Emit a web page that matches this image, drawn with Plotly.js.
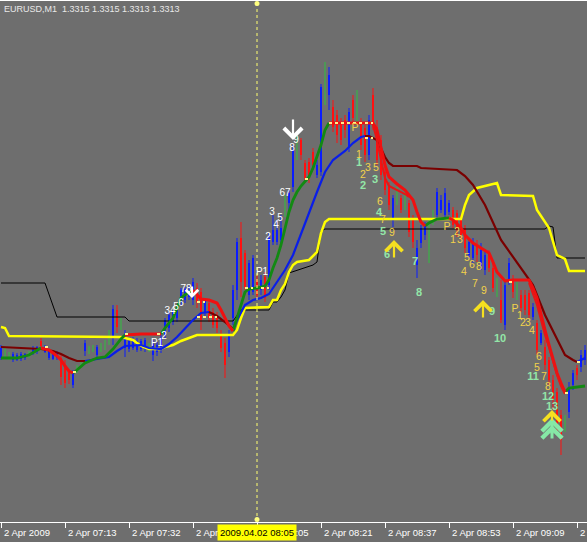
<!DOCTYPE html>
<html><head><meta charset="utf-8">
<script src="https://cdn.plot.ly/plotly-3.0.1.min.js"></script>
<style>html,body{margin:0;padding:0;background:#6e6e6e;}#chart{width:587px;height:542px;}</style>
</head><body><div id="chart"></div>
<script>
// ---------- DATA ----------
const symbol = "EURUSD,M1";
const lastOHLC = [1.3315, 1.3315, 1.3313, 1.3313];
const tickBars = [0, 16, 32, 48, 64, 80, 96, 112, 128, 144];
const tickLabels = ["2 Apr 2009", "2 Apr 07:13", "2 Apr 07:32", "2 Apr 07:49", "2 Apr 08:05",
  "2 Apr 08:21", "2 Apr 08:37", "2 Apr 08:53", "2 Apr 09:09", "2 Apr 09:25"];
const crosshairBar = 64;
const crosshairLabel = "2009.04.02 08:05";

const open = [1.3333,1.3339,1.3335,1.3331,1.3331,1.3332,1.3333,1.3336,1.3338,1.3339,
1.3350,1.3339,1.3333,1.3332,1.3333,1.3333,1.3326,1.3319,1.3306,1.3321,
1.3327,1.3340,1.3341,1.3343,1.3336,1.3343,1.3346,1.3353,1.3354,1.3381,
1.3367,1.3343,1.3342,1.3343,1.3341,1.3342,1.3343,1.3344,1.3336,1.3339,
1.3341,1.3356,1.3363,1.3369,1.3373,1.3388,1.3391,1.3394,1.3391,1.3403,
1.3399,1.3378,1.3388,1.3379,1.3373,1.3356,1.3348,1.3339,1.3373,1.3401,
1.3453,1.3438,1.3396,1.3399,1.3411,1.3401,1.3414,1.3406,1.3449,1.3449,
1.3451,1.3486,1.3488,1.3504,1.3543,1.3551,1.3528,1.3529,1.3539,1.3516,
1.3519,1.3606,1.3596,1.3584,1.3576,1.3568,1.3571,1.3543,1.3591,1.3585,
1.3568,1.3563,1.3536,1.3596,1.3564,1.3551,1.3519,1.3504,1.3473,1.3495,
1.3493,1.3491,1.3488,1.3471,1.3426,1.3448,1.3456,1.3451,1.3473,1.3476,
1.3481,1.3476,1.3479,1.3481,1.3478,1.3473,1.3463,1.3436,1.3433,1.3446,
1.3426,1.3421,1.3438,1.3423,1.3403,1.3391,1.3366,1.3411,1.3411,1.3401,
1.3396,1.3396,1.3398,1.3374,1.3368,1.3348,1.3344,1.3331,1.3311,1.3299,
1.3276,1.3268,1.3279,1.3306,1.3323,1.3324,1.3331];
const high = [1.3346,1.3343,1.3339,1.3339,1.3338,1.3339,1.3338,1.3340,1.3345,1.3345,
1.3353,1.3346,1.3342,1.3341,1.3340,1.3336,1.3331,1.3321,1.3321,1.3326,
1.3331,1.3351,1.3345,1.3346,1.3346,1.3348,1.3351,1.3361,1.3386,1.3386,
1.3373,1.3361,1.3353,1.3354,1.3353,1.3352,1.3353,1.3348,1.3351,1.3349,
1.3356,1.3373,1.3379,1.3381,1.3386,1.3403,1.3404,1.3405,1.3413,1.3408,
1.3403,1.3393,1.3391,1.3383,1.3379,1.3361,1.3353,1.3361,1.3406,1.3453,
1.3469,1.3441,1.3431,1.3436,1.3416,1.3416,1.3419,1.3458,1.3476,1.3471,
1.3476,1.3496,1.3501,1.3546,1.3556,1.3553,1.3531,1.3533,1.3543,1.3531,
1.3607,1.3629,1.3624,1.3591,1.3581,1.3573,1.3576,1.3583,1.3596,1.3601,
1.3573,1.3566,1.3576,1.3603,1.3571,1.3556,1.3526,1.3509,1.3496,1.3504,
1.3496,1.3501,1.3491,1.3476,1.3451,1.3466,1.3469,1.3473,1.3481,1.3503,
1.3496,1.3503,1.3491,1.3484,1.3481,1.3476,1.3466,1.3453,1.3453,1.3451,
1.3448,1.3441,1.3441,1.3429,1.3413,1.3411,1.3411,1.3433,1.3416,1.3409,
1.3401,1.3401,1.3401,1.3388,1.3371,1.3361,1.3351,1.3334,1.3316,1.3303,
1.3281,1.3276,1.3309,1.3321,1.3326,1.3341,1.3346];
const low = [1.3331,1.3333,1.3331,1.3329,1.3330,1.3330,1.3331,1.3333,1.3336,1.3337,
1.3343,1.3338,1.3331,1.3331,1.3331,1.3306,1.3303,1.3307,1.3303,1.3318,
1.3323,1.3335,1.3337,1.3339,1.3333,1.3339,1.3341,1.3346,1.3346,1.3358,
1.3361,1.3334,1.3339,1.3341,1.3339,1.3340,1.3339,1.3339,1.3330,1.3335,
1.3338,1.3353,1.3359,1.3366,1.3369,1.3385,1.3388,1.3391,1.3386,1.3383,
1.3361,1.3373,1.3369,1.3363,1.3358,1.3339,1.3313,1.3334,1.3366,1.3391,
1.3394,1.3401,1.3391,1.3396,1.3391,1.3396,1.3389,1.3401,1.3446,1.3446,
1.3448,1.3474,1.3481,1.3499,1.3531,1.3531,1.3508,1.3508,1.3521,1.3513,
1.3515,1.3586,1.3581,1.3559,1.3548,1.3546,1.3553,1.3539,1.3568,1.3569,
1.3541,1.3529,1.3531,1.3561,1.3526,1.3511,1.3496,1.3481,1.3464,1.3486,
1.3478,1.3481,1.3454,1.3443,1.3413,1.3443,1.3451,1.3428,1.3466,1.3471,
1.3478,1.3473,1.3476,1.3463,1.3454,1.3451,1.3438,1.3433,1.3428,1.3429,
1.3421,1.3416,1.3419,1.3399,1.3394,1.3368,1.3361,1.3406,1.3393,1.3391,
1.3379,1.3376,1.3373,1.3371,1.3336,1.3346,1.3321,1.3306,1.3281,1.3259,
1.3236,1.3259,1.3273,1.3301,1.3311,1.3319,1.3326];
const close = [1.3343,1.3339,1.3335,1.3337,1.3336,1.3337,1.3337,1.3336,1.3343,1.3344,
1.3345,1.3344,1.3340,1.3339,1.3338,1.3314,1.3308,1.3311,1.3318,1.3321,
1.3327,1.3348,1.3341,1.3343,1.3344,1.3343,1.3346,1.3353,1.3382,1.3364,
1.3367,1.3357,1.3350,1.3351,1.3350,1.3350,1.3351,1.3344,1.3347,1.3346,
1.3353,1.3371,1.3376,1.3379,1.3384,1.3401,1.3402,1.3401,1.3409,1.3389,
1.3371,1.3390,1.3373,1.3366,1.3363,1.3343,1.3326,1.3356,1.3401,1.3449,
1.3409,1.3404,1.3428,1.3433,1.3396,1.3411,1.3393,1.3453,1.3461,1.3461,
1.3463,1.3486,1.3498,1.3541,1.3543,1.3536,1.3513,1.3513,1.3526,1.3526,
1.3604,1.3606,1.3616,1.3564,1.3556,1.3551,1.3561,1.3579,1.3573,1.3585,
1.3546,1.3536,1.3571,1.3566,1.3531,1.3516,1.3501,1.3486,1.3493,1.3495,
1.3481,1.3491,1.3459,1.3449,1.3443,1.3463,1.3466,1.3451,1.3473,1.3499,
1.3491,1.3498,1.3488,1.3466,1.3461,1.3456,1.3443,1.3449,1.3449,1.3436,
1.3441,1.3436,1.3423,1.3403,1.3403,1.3371,1.3406,1.3428,1.3399,1.3401,
1.3383,1.3381,1.3376,1.3384,1.3341,1.3358,1.3326,1.3311,1.3291,1.3266,
1.3251,1.3268,1.3304,1.3318,1.3316,1.3336,1.3341];

// fast trend MA: rising buffer / falling buffer (null = empty value)
const fastUpBars = [0,4,7,10,null,18,19,21,24,26,28,30,31,null,40,41,43,45,47,48,null,
  58,59,60,61,62,64,66,67,68,69,70,71,72,73,74,75,76,77,78,79,80,81,82,null,106,107,109,112,null,141,142,146];
const fastUp = [1.3333,1.3333,1.3336,1.3343,null,1.3318,1.3321,1.3328,1.3333,1.3334,1.3342,1.3352,1.3356,null,
  1.3357,1.3363,1.3373,1.3393,1.3399,1.3401,null,
  1.3360,1.3373,1.3388,1.3399,1.3402,1.3403,1.3405,1.3411,1.3423,1.3433,1.3446,1.3463,1.3479,1.3491,1.3499,
  1.3505,1.3510,1.3514,1.3523,1.3534,1.3546,1.3561,1.3568,null,1.3465,1.3468,1.3472,1.3473,null,1.3299,1.3303,1.3305];
const fastDnBars = [10,12,14,15,16,17,18,null,31,35,40,null,48,50,52,54,55,56,57,58,null,
  82,88,93,94,95,96,97,99,101,103,104,105,106,null,
  112,113,115,116,118,120,122,123,124,126,128,132,133,134,135,136,137,138,139,140,141];
const fastDn = [1.3343,1.3341,1.3335,1.3331,1.3325,1.3320,1.3318,null,1.3356,1.3357,1.3357,null,
  1.3401,1.3392,1.3391,1.3388,1.3381,1.3373,1.3365,1.3360,null,
  1.3568,1.3568,1.3568,1.3561,1.3543,1.3526,1.3514,1.3507,1.3501,1.3491,1.3479,1.3469,1.3465,null,
  1.3473,1.3471,1.3463,1.3456,1.3448,1.3443,1.3438,1.3429,1.3419,1.3410,1.3411,1.3411,1.3403,1.3393,
  1.3376,1.3361,1.3346,1.3331,1.3318,1.3308,1.3299];
// slow trend MA
const slowUpBars = [21,24,27,29,31,35,37,40,42,44,46,48,50,52,null,
  58,59,61,63,65,67,69,71,73,75,77,79,81,83,86,88,90,91,null,144,146];
const slowUp = [1.3330,1.3332,1.3334,1.3340,1.3345,1.3346,1.3343,1.3342,1.3347,1.3354,1.3363,1.3371,1.3378,1.3379,null,
  1.3362,1.3371,1.3386,1.3391,1.3393,1.3397,1.3409,1.3421,1.3436,1.3456,1.3478,1.3499,1.3519,1.3531,1.3540,1.3548,1.3554,1.3555,null,
  1.3329,1.3333];
const slowDnBars = [0,5,10,13,15,17,19,21,null,52,54,56,58,null,
  91,92,94,95,96,97,98,104,105,114,116,118,121,125,129,133,136,139,141,143,144];
const slowDn = [1.3344,1.3343,1.3342,1.3340,1.3337,1.3333,1.3330,1.3330,null,1.3379,1.3375,1.3369,1.3362,null,
  1.3555,1.3555,1.3551,1.3543,1.3534,1.3528,1.3525,1.3525,1.3523,1.3521,1.3515,1.3506,1.3486,1.3451,1.3428,
  1.3406,1.3376,1.3351,1.3336,1.3331,1.3329];
// second falling line
const red2Bars = [93,94,95,96,97,99,101,102,null,132,134,136,137,139,140,141];
const red2 = [1.3566,1.3551,1.3531,1.3513,1.3505,1.3501,1.3497,1.3494,null,1.3408,1.3386,1.3356,1.3344,1.3316,1.3305,1.3297];
// yellow trailing stop
const yellowBars = [0,1,2,30,33,35,37,40,41,43,45,47,49,58,59,60,61,67,68,69,70,71,72,73,74,77,79,80,81,82,
  115,116,117,119,122,124,125,133,134,136,137,139,141,142,146];
const yellowLine = [1.3364,1.3363,1.3355,1.3354,1.3351,1.3345,1.3342,1.3342,1.3344,1.3346,1.3350,1.3353,1.3356,1.3356,
  1.3361,1.3373,1.3383,1.3384,1.3391,1.3391,1.3401,1.3407,1.3419,1.3426,1.3429,1.3431,1.3439,1.3458,1.3469,1.3472,
  1.3472,1.3486,1.3496,1.3503,1.3506,1.3508,1.3496,1.3495,1.3481,1.3469,1.3463,1.3436,1.3432,1.3420,1.3420];
// black level line
const blackBars = [0,11,14,31,32,58,60,67,68,69,70,71,72,78,79,80,81,136,137,138,139,146];
const blackLine = [1.3408,1.3408,1.3374,1.3374,1.3370,1.3370,1.3381,1.3381,1.3389,1.3389,1.3394,1.3401,1.3418,
  1.3426,1.3429,1.3460,1.3462,1.3462,1.3465,1.3464,1.3433,1.3433];
// short signal levels
const markStart = [11,18,31,39,49,49,61,65,76,82,91,127,141,144];
const markEnd   = [12,19,32,40,51,54,63,67,77,93,93,128,142,145];
const markLevel = [1.3344,1.3319,1.3357,1.3357,1.3389,1.3374,1.3403,1.3403,1.3512,1.3568,1.3553,1.3409,1.3298,1.3329];
// count labels
const whiteLabelBars = [46.25,42.25,43.75,45,39,40.75,65.25,66.75,67.75,68.75,69.75,71,72.75,73.75];
const whiteLabelPrices = [1.3402,1.3380,1.3384,1.3388,1.3348,1.3355,1.3419,1.3454,1.3479,1.3466,1.3473,1.3498,1.3543,1.3551];
const whiteLabelTexts = ["78","34","5","6","P1","2","P1","2","3","4","5","67","8","9"];
const yellowLabelBars = [88.5,89.5,90.5,91.75,93.75,94.75,95.5,97.75,111.5,113,114,114.75,115.75,116.5,117.75,118.5,
  119.5,120.75,128.5,129.75,130.5,131.75,132.75,134.5,134,135.75,136.75];
const yellowLabelPrices = [1.3563,1.3536,1.3516,1.3523,1.3523,1.3489,1.3471,1.3458,1.3464,1.3451,1.3459,1.3451,1.3419,
  1.3433,1.3426,1.3407,1.3424,1.3400,1.3382,1.3375,1.3368,1.3368,1.3360,1.3334,1.3323,1.3314,1.3304];
const yellowLabelTexts = ["P","1","2","3","5","6","7","9","P","1","2","3","4","5","6","7","8","9","P","1","2","3","4","6","5","7","8"];
const greenLabelBars = [89.5,90.5,93.5,94.5,95.5,96.5,103.5,104.5,122.75,124.75,133,136.75,137.75];
const greenLabelPrices = [1.3528,1.3505,1.3511,1.3478,1.3459,1.3436,1.3429,1.3398,1.3379,1.3352,1.3314,1.3294,1.3284];
const greenLabelTexts = ["1","2","3","4","5","6","7","8","9","10","11","12","13"];
// signal arrows
const sellBars = [47.75, 73];
const sellPrices = [1.3393, 1.3551];
const buyBars = [98.25, 120.5, 137.75];
const buyPrices = [1.3451, 1.3391, 1.3281];
const strongBuyBars = [137.75];
const strongBuyPrices = [1.3273];

// ---------- STYLE ----------
const BG = '#6e6e6e';
const BLUE = '#0a1cff', RED = '#ff1010', THIN_GREEN = '#2fc03f';
const FONT = 'Liberation Sans, Arial, sans-serif';

// ---------- BUILD ----------
const bars = open.map((_, i) => i);
const traces = [];
traces.push({
  type: 'bar', x: bars,
  base: open.map((o, i) => Math.min(o, close[i])),
  y: open.map((o, i) => Math.abs(close[i] - o)),
  width: 0.74,
  marker: { color: open.map((o, i) => close[i] > o ? BLUE : (close[i] < o ? RED : THIN_GREEN)), line: { width: 0 } },
  hoverinfo: 'skip'
});
[[BLUE, (o, c) => c > o], [RED, (o, c) => c < o], [THIN_GREEN, (o, c) => c === o]].forEach(([col, test]) => {
  const wx = [], wy = [];
  bars.forEach(i => { if (test(open[i], close[i])) { wx.push(i, i, null); wy.push(low[i], high[i], null); } });
  traces.push({ type: 'scatter', mode: 'lines', x: wx, y: wy, line: { color: col, width: 1 }, hoverinfo: 'skip' });
});
function line(x, y, color, width, extra) {
  return Object.assign({ type: 'scatter', mode: 'lines', x: x, y: y, connectgaps: false,
    line: Object.assign({ color: color, width: width }, extra || {}), hoverinfo: 'skip' });
}
traces.push(line(blackBars, blackLine, '#000000', 1));
traces.push(line(yellowBars, yellowLine, '#ffff00', 2.5));
traces.push(line(slowUpBars, slowUp, '#0a1ee8', 2.2));
traces.push(line(slowDnBars, slowDn, '#7a0000', 2.2));
traces.push(line(fastUpBars, fastUp, '#128a12', 2.8));
traces.push(line(fastDnBars, fastDn, '#f01010', 3));
traces.push(line(red2Bars, red2, '#e81515', 2));
const mx = [], my = [];
markStart.forEach((s, k) => { mx.push(s, markEnd[k], null); my.push(markLevel[k], markLevel[k], null); });
traces.push(line(mx, my, '#fff08a', 2, { dash: '3px,3px' }));

function labels(x, y, t, color, size, weight) {
  return { type: 'scatter', mode: 'text', x: x, y: y, text: t, textposition: 'middle center',
    textfont: { family: FONT, size: size, color: color, weight: weight }, hoverinfo: 'skip' };
}
traces.push(labels(whiteLabelBars, whiteLabelPrices, whiteLabelTexts, '#ffffff', 10, 'normal'));
traces.push(labels(yellowLabelBars, yellowLabelPrices, yellowLabelTexts, '#f2d24b', 10.5, 'normal'));
traces.push(labels(greenLabelBars, greenLabelPrices, greenLabelTexts, '#93e6a8', 11, 'bold'));

const annotations = [];
// title
annotations.push({ xref: 'paper', yref: 'paper', x: 0, y: 1, xanchor: 'left', yanchor: 'top', xshift: 2, yshift: -1,
  showarrow: false, text: symbol + '\u00a0\u00a0' + lastOHLC.map(v => v.toFixed(4)).join(' '),
  font: { family: FONT, size: 9, color: '#e8e8e8' } });
// time labels
tickBars.forEach((b, k) => annotations.push({ xref: 'x', yref: 'paper', x: b, y: -0.0195, xanchor: 'left', yanchor: 'middle',
  xshift: 1, showarrow: false, text: tickLabels[k], font: { family: FONT, size: 9.5, color: '#ffffff' } }));
// crosshair time box
annotations.push({ xref: 'x', yref: 'paper', x: crosshairBar, y: -0.0195, xanchor: 'center', yanchor: 'middle',
  showarrow: false, text: crosshairLabel, bgcolor: '#ffff00', borderpad: 2,
  font: { family: FONT, size: 9.5, color: '#000000' } });
// arrows
sellBars.forEach((b, k) => annotations.push({ xref: 'x', yref: 'y', x: b, y: sellPrices[k], ax: 0, ay: k === 0 ? -13 : -22,
  showarrow: true, arrowhead: 4, arrowsize: k === 0 ? 1.1 : 1.6, arrowwidth: 2.2, arrowcolor: '#ffffff', text: '' }));
strongBuyBars.forEach((b, k) => {
  annotations.push({ xref: 'x', yref: 'y', x: b, y: strongBuyPrices[k], ax: 0, ay: 22,
    showarrow: true, arrowhead: 4, arrowsize: 1.3, arrowwidth: 3, arrowcolor: '#86e8a6', text: '' });
  annotations.push({ xref: 'x', yref: 'y', x: b, y: strongBuyPrices[k], yshift: -7, ax: 0, ay: 10,
    showarrow: true, arrowhead: 4, arrowsize: 1.3, arrowwidth: 3, arrowcolor: '#86e8a6', text: '' });
});
buyBars.forEach((b, k) => annotations.push({ xref: 'x', yref: 'y', x: b, y: buyPrices[k], ax: 0, ay: k === 2 ? 12 : 19,
  showarrow: true, arrowhead: 4, arrowsize: 1.5, arrowwidth: 2.2, arrowcolor: '#f5e020', text: '' }));

const layout = {
  width: 587, height: 542,
  margin: { l: 0, r: 0, t: 1, b: 20, pad: 0 },
  paper_bgcolor: BG, plot_bgcolor: BG,
  showlegend: false, hovermode: false, bargap: 0,
  xaxis: { range: [-0.25, 146.5], showgrid: false, zeroline: false, showline: true, linecolor: '#ffffff',
    linewidth: 1, mirror: true, ticks: 'outside', ticklen: 5, tickwidth: 1, tickcolor: '#ffffff',
    tickvals: tickBars, showticklabels: false, fixedrange: true },
  yaxis: { range: [1.3169, 1.3690], visible: false, fixedrange: true },
  shapes: [
    { type: 'line', xref: 'x', yref: 'paper', x0: crosshairBar, x1: crosshairBar, y0: 0, y1: 1,
      line: { color: '#ffff70', width: 1, dash: '3px,3px' } },
    { type: 'circle', xref: 'x', yref: 'paper', xsizemode: 'pixel', ysizemode: 'pixel', xanchor: crosshairBar, yanchor: 1,
      x0: -2.5, x1: 2.5, y0: -5, y1: 0, fillcolor: '#ffff80', line: { width: 0 } },
    { type: 'circle', xref: 'x', yref: 'paper', xsizemode: 'pixel', ysizemode: 'pixel', xanchor: crosshairBar, yanchor: 0,
      x0: -2.5, x1: 2.5, y0: 0, y1: 5, fillcolor: '#ffff80', line: { width: 0 } }
  ],
  annotations: annotations
};
Plotly.newPlot('chart', traces, layout, { staticPlot: true, displayModeBar: false });
</script></body></html>
